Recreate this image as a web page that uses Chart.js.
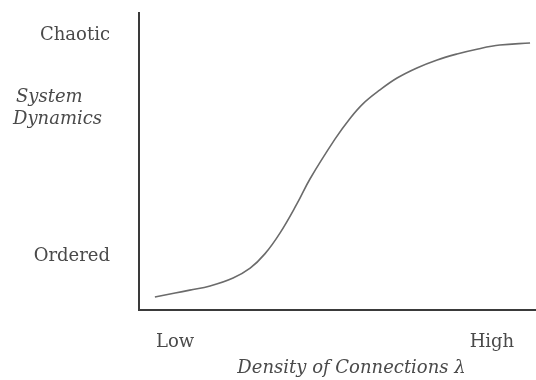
<!DOCTYPE html>
<html>
<head>
<meta charset="utf-8">
<script src="https://cdn.jsdelivr.net/npm/chart.js@4.4.1/dist/chart.umd.min.js"></script>
<style>
  html, body { margin: 0; padding: 0; background: #fff; overflow: hidden; }
</style>
</head>
<body>
<canvas id="sCurve" width="536" height="380"></canvas>
<script>
// curve (x: density 0-100, y: dynamics 0-100)
const densityVals = [4.0, 9.1, 12.8, 17.9, 23.7, 28.0, 31.7, 35.5, 39.8, 43.1, 49.4, 53.1, 56.4, 60.7, 65.0, 70.0, 75.1, 80.1, 85.4, 90.9, 98.5];
const dynamicsVals = [4.4, 5.7, 6.7, 8.1, 10.8, 14.1, 18.9, 25.9, 35.8, 44.2, 57.6, 64.4, 69.4, 74.1, 78.1, 81.5, 84.2, 86.2, 87.9, 89.2, 89.9];

const xTickVals = [9.1, 88.9];
const xTickLabels = ['Low', 'High'];
const yTickVals = [18.2, 92.6];
const yTickLabels = ['Ordered', 'Chaotic'];

const yTitle = ['System', 'Dynamics'];
const xTitle = 'Density of Connections \u03bb';

const textColor = '#4a4a4a';
const serif = "'DejaVu Serif', serif";

const points = densityVals.map((x, i) => ({ x: x, y: dynamicsVals[i] }));

const titlesPlugin = {
  id: 'titles',
  afterDraw(chart) {
    const ctx = chart.ctx;
    const area = chart.chartArea;
    ctx.save();
    ctx.fillStyle = textColor;
    ctx.font = 'italic 18px ' + serif;
    ctx.textBaseline = 'middle';
    ctx.textAlign = 'left';
    ctx.fillText(yTitle[0], 16, 97);
    ctx.fillText(yTitle[1], 13, 119);
    ctx.textAlign = 'center';
    ctx.fillText(xTitle, (area.left + area.right) / 2 + 14, 368);
    ctx.restore();
  }
};

const noPad = scale => {
  scale.paddingTop = 0;
  scale.paddingBottom = 0;
  scale.paddingLeft = 0;
  scale.paddingRight = 0;
};

new Chart(document.getElementById('sCurve'), {
  type: 'scatter',
  data: {
    datasets: [{
      data: points,
      showLine: true,
      borderColor: '#6b6b6b',
      borderWidth: 1.6,
      pointRadius: 0,
      tension: 0.4
    }]
  },
  options: {
    responsive: false,
    animation: false,
    layout: { padding: { top: 13, right: 0, left: 0, bottom: 0 } },
    plugins: { legend: { display: false }, tooltip: { enabled: false } },
    scales: {
      x: {
        type: 'linear',
        min: 0,
        max: 100,
        grid: { display: false, drawTicks: false },
        border: { display: true, color: '#3a3a3a', width: 2 },
        afterBuildTicks: scale => {
          scale.ticks = xTickVals.map(v => ({ value: v }));
        },
        afterFit: scale => { scale.height = 70; noPad(scale); },
        ticks: {
          padding: 22,
          autoSkip: false,
          maxRotation: 0,
          color: textColor,
          font: { family: serif, size: 18 },
          callback: (value, i) => xTickLabels[i]
        }
      },
      y: {
        type: 'linear',
        min: 0,
        max: 100,
        grid: { display: false, drawTicks: false },
        border: { display: true, color: '#3a3a3a', width: 2 },
        afterBuildTicks: scale => {
          scale.ticks = yTickVals.map(v => ({ value: v }));
        },
        afterFit: scale => { scale.width = 139; noPad(scale); },
        ticks: {
          padding: 29,
          autoSkip: false,
          color: textColor,
          font: { family: serif, size: 18 },
          callback: (value, i) => yTickLabels[i]
        }
      }
    }
  },
  plugins: [titlesPlugin]
});
</script>
</body>
</html>
